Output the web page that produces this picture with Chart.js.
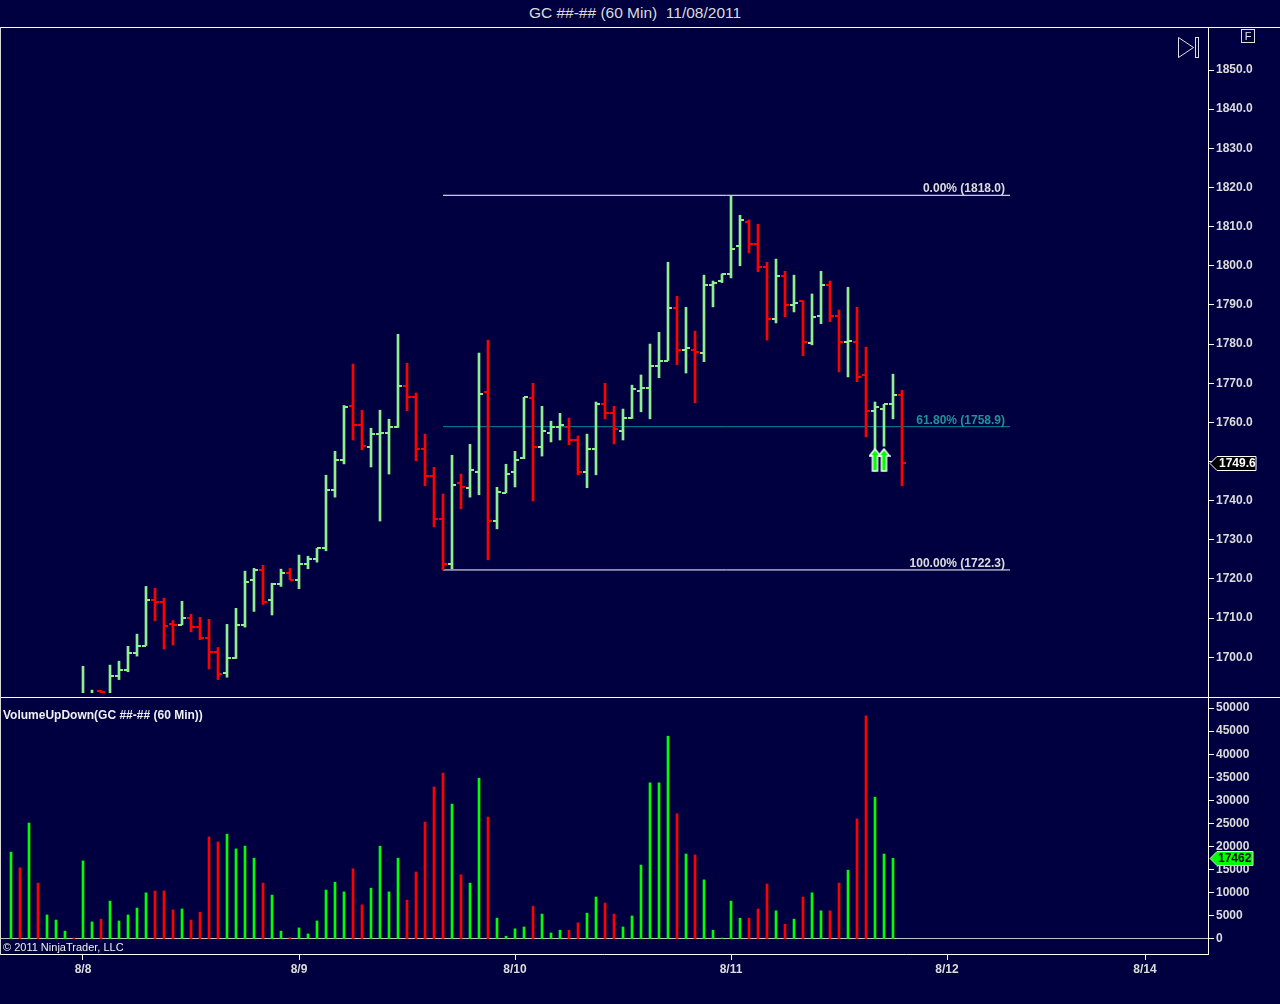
<!DOCTYPE html>
<html>
<head>
<meta charset="utf-8">
<script src="https://cdn.jsdelivr.net/npm/chart.js@4.4.1/dist/chart.umd.min.js"></script>
<style>
html,body{margin:0;padding:0;background:#000040;width:1280px;height:1004px;overflow:hidden;font-family:"Liberation Sans",Arial,sans-serif;}
#title{position:absolute;left:0;top:0;width:1270px;height:27px;line-height:26px;text-align:center;color:#DCDCDC;font-size:15.5px;white-space:pre;}
#topline{position:absolute;left:0;top:27px;width:1280px;height:1px;background:#FFFFFF;}
#leftline{position:absolute;left:0;top:27px;width:1px;height:928px;background:#D8D8D8;z-index:2;}
#pbox{position:absolute;left:0;top:28px;width:1280px;height:669px;}
#vbox{position:absolute;left:0;top:697px;width:1280px;height:307px;}
</style>
</head>
<body>
<div id="title"></div>
<div id="topline"></div>
<div id="leftline"></div>
<div id="pbox"><canvas id="priceChart"></canvas></div>
<div id="vbox"><canvas id="volChart"></canvas></div>
<script>
// ---------------- DATA ----------------
const chartTitle = 'GC ##-## (60 Min)  11/08/2011';
const volumeTitle = 'VolumeUpDown(GC ##-## (60 Min))';
const copyrightText = '\u00A9 2011 NinjaTrader, LLC';

// hourly bar slots (0 = first bar on screen)
const barSlots = [0,1,2,3,4,5,6,7,8,9,10,11,12,13,14,15,16,17,18,19,20,21,22,23,24,25,26,27,28,29,30,31,32,33,34,35,36,37,38,39,40,41,42,43,44,45,46,47,48,49,50,51,52,53,54,55,56,57,58,59,60,61,62,63,64,65,66,67,68,69,70,71,72,73,74,75,76,77,78,79,80,81,82,83,84,85,86,87,88,89,90,91,92,93,94,95,96,97,98,99];

const opens = [1680.0,1684.0,1681.0,1686.0,1683.0,1685.0,1686.0,1687.0,1686.5,1689.5,
 1691.3,1689.0,1695.3,1696.7,1701.2,1703.0,1714.5,1714.0,1708.4,1708.3,
 1710.1,1707.8,1705.0,1701.4,1696.1,1699.7,1708.3,1719.8,1722.2,1714.5,
 1718.7,1721.6,1719.8,1723.7,1725.0,1727.8,1742.8,1750.5,1764.1,1759.4,
 1753.8,1757.1,1757.4,1758.9,1769.4,1766.6,1753.1,1746.4,1735.3,1723.7,
 1744.4,1743.2,1747.4,1767.7,1734.7,1742.0,1747.4,1751.0,1766.1,1753.6,
 1757.4,1758.7,1758.9,1755.6,1747.2,1753.3,1764.6,1762.3,1757.9,1761.0,
 1768.1,1768.7,1774.5,1775.8,1789.1,1778.4,1778.6,1777.6,1795.0,1796.0,
 1798.0,1805.0,1811.1,1805.5,1799.8,1786.3,1797.5,1790.1,1790.9,1780.2,
 1787.1,1795.2,1787.1,1780.6,1780.4,1772.0,1763.0,1763.5,1764.6,1766.9];
const highs = [1686.0,1686.0,1688.0,1687.0,1686.0,1687.0,1687.5,1688.0,1697.7,1691.6,
 1691.5,1698.0,1699.0,1702.8,1705.9,1718.1,1717.6,1715.1,1709.4,1714.3,
 1711.0,1710.2,1709.7,1702.5,1708.4,1712.5,1722.0,1722.7,1723.5,1718.9,
 1722.5,1722.7,1726.1,1725.8,1727.8,1746.5,1752.6,1764.3,1774.9,1763.1,
 1758.5,1763.1,1760.8,1782.5,1775.1,1767.5,1757.0,1748.5,1741.7,1751.6,
 1746.8,1754.4,1777.7,1781.0,1743.4,1749.3,1752.6,1766.4,1770.0,1764.1,
 1760.3,1762.3,1761.1,1756.5,1757.0,1765.2,1770.0,1764.1,1763.4,1769.5,
 1772.1,1780.0,1783.0,1800.9,1792.2,1789.4,1783.3,1797.6,1796.1,1797.9,
 1818.0,1812.9,1811.7,1810.6,1800.9,1801.7,1798.6,1797.6,1791.0,1792.8,
 1798.6,1796.1,1788.7,1794.5,1789.4,1779.2,1765.2,1764.6,1772.3,1768.2];
const lows = [1678.0,1679.0,1680.0,1682.0,1682.0,1684.0,1685.0,1685.5,1686.0,1687.0,
 1686.0,1688.0,1694.3,1696.3,1700.3,1703.0,1709.3,1702.1,1703.1,1708.3,
 1706.5,1704.5,1697.0,1694.3,1694.9,1699.7,1707.7,1711.7,1713.5,1710.8,
 1718.1,1719.8,1717.5,1722.6,1724.3,1727.2,1740.9,1749.4,1755.5,1753.0,
 1748.6,1734.8,1746.8,1758.7,1763.0,1750.2,1743.8,1733.3,1722.3,1722.6,
 1737.9,1740.9,1741.5,1724.9,1732.8,1742.0,1743.5,1750.7,1739.9,1751.4,
 1755.0,1755.5,1754.3,1746.6,1743.3,1746.6,1760.9,1754.5,1755.5,1761.0,
 1762.7,1760.9,1771.4,1775.8,1774.7,1772.6,1765.0,1775.5,1789.5,1795.7,
 1796.9,1800.0,1803.3,1798.5,1781.0,1785.4,1787.0,1788.2,1777.0,1779.8,
 1785.2,1785.7,1772.9,1771.6,1770.4,1756.3,1753.3,1753.9,1760.9,1743.8];
const closes = [1684.0,1681.0,1686.0,1683.0,1685.0,1686.0,1687.0,1686.5,1690.0,1690.5,
 1691.1,1695.3,1696.7,1701.2,1703.0,1714.5,1714.0,1708.1,1708.2,1710.1,
 1707.8,1705.0,1701.4,1695.8,1699.7,1708.3,1719.3,1722.2,1714.2,1718.7,
 1721.6,1719.8,1723.7,1725.0,1727.8,1742.8,1750.5,1763.8,1759.4,1754.0,
 1757.1,1757.2,1758.9,1769.2,1766.6,1753.1,1746.2,1735.3,1723.7,1744.1,
 1743.4,1747.8,1767.2,1734.7,1742.3,1746.7,1750.5,1766.4,1753.6,1757.7,
 1758.7,1759.2,1755.6,1747.2,1753.3,1764.6,1762.3,1758.2,1761.0,1768.4,
 1768.9,1774.3,1775.6,1789.1,1778.4,1778.9,1777.9,1795.2,1795.5,1797.8,
 1804.2,1811.6,1805.5,1799.8,1786.5,1797.3,1790.1,1790.6,1780.4,1786.8,
 1795.2,1787.1,1780.6,1780.7,1771.7,1763.0,1763.8,1764.6,1766.9,1749.6];
const volumes = [18800,15400,25100,12100,5200,4100,1700,200,16900,3700,
 4300,8200,3900,5200,6700,10000,10400,10400,6300,6500,
 4100,5800,22100,21000,22700,19500,20100,17500,12100,9500,
 1700,300,2400,1100,3900,10600,12300,10200,15200,7400,
 11000,20100,10200,17500,8400,14500,25300,32900,35900,29200,
 13900,12100,34800,26400,4500,600,2200,2600,7100,5400,
 1300,1900,1900,3500,5600,9100,7800,5400,2600,5000,
 16000,33800,33800,43900,27100,18400,18200,12800,1900,200,
 8200,4500,4500,6500,11900,6100,3200,4300,9100,10000,
 6100,6100,12100,14900,26000,48300,30700,18400,17462,null];

const priceTicks = [1700,1710,1720,1730,1740,1750,1760,1770,1780,1790,1800,1810,1820,1830,1840,1850];
const volumeTicks = [0,5000,10000,15000,20000,25000,30000,35000,40000,45000,50000];
const dateLabels = ['8/8','8/9','8/10','8/11','8/12','8/14'];
const dateSlots = [8,32,56,80,104,126];

const fibLabels = ['0.00%','61.80%','100.00%'];
const fibPrices = [1818.0,1758.9,1722.3];
const fibStartSlot = 48;
const fibEndSlot = 111;

const signalSlots = [96,97];
const signalPrices = [1750.4,1750.4];

// ---------------- VIEW ----------------
const X_MIN = -11/9, X_MAX = 133.0;
const PRICE_MIN = 1689.85, PRICE_MAX = 1860.73;
const VOL_MIN = -3247, VOL_MAX = 52381;
const FONT = '"Liberation Sans", Arial, sans-serif';
const LABEL = '#DCDCDC';
const UP = '#90EE90', DOWN = '#FF0000', VUP = '#00FF00', VDOWN = '#FF0000';
const FIB_COLORS = ['#FFFFFF', '#008B8B', '#FFFFFF'];
const FIB_TEXT = ['#DCDCDC', '#1E9494', '#DCDCDC'];

document.getElementById('title').textContent = chartTitle;
Chart.defaults.font.family = FONT;

const isUp = barSlots.map((k, i) => closes[i] >= opens[i]);

function arrowImg() {
  const c = document.createElement('canvas');
  c.width = 13; c.height = 24;
  const g = c.getContext('2d');
  g.beginPath();
  g.moveTo(6.5, 1); g.lineTo(12, 8); g.lineTo(9, 8); g.lineTo(9, 23);
  g.lineTo(4, 23); g.lineTo(4, 8); g.lineTo(1, 8); g.closePath();
  g.fillStyle = '#00FF00'; g.fill();
  g.strokeStyle = '#FFFFFF'; g.lineWidth = 1.5; g.stroke();
  return c;
}
const arrow = arrowImg();

const priceClip = {left: 0, top: 0, right: 0, bottom: -4};
const noPad = s => { s.paddingTop = 0; s.paddingBottom = 0; s.paddingLeft = 0; s.paddingRight = 0; };

const datasets = [];
datasets.push({
  type: 'line', label: 'signals', showLine: false,
  data: signalSlots.map((k, i) => ({x: k, y: signalPrices[i]})),
  pointStyle: arrow, pointRadius: 6, clip: priceClip
});
datasets.push({
  type: 'line', label: 'open', showLine: false, tick: 'open',
  data: barSlots.map((k, i) => ({x: k, y: opens[i]})),
  pointRadius: 0, clip: priceClip
});
datasets.push({
  type: 'line', label: 'close', showLine: false, tick: 'close',
  data: barSlots.map((k, i) => ({x: k, y: closes[i]})),
  pointRadius: 0, clip: priceClip
});
datasets.push({
  type: 'bar', label: 'range',
  data: barSlots.map((k, i) => ({x: k, y: [lows[i], highs[i]]})),
  backgroundColor: barSlots.map((k, i) => isUp[i] ? UP : DOWN),
  borderWidth: 0, barThickness: 2, grouped: false, clip: priceClip
});
fibPrices.forEach((p, i) => {
  datasets.push({
    type: 'line', label: fibLabels[i],
    data: [{x: fibStartSlot, y: p}, {x: fibEndSlot, y: p}],
    borderColor: FIB_COLORS[i], borderWidth: 1, pointRadius: 0, clip: priceClip
  });
});

// open/close ticks drawn at the points positioned by the chart's scales
const ohlcTicks = {
  id: 'ohlcTicks',
  afterDatasetsDraw(chart) {
    const ctx = chart.ctx, a = chart.chartArea;
    ctx.save();
    ctx.beginPath();
    ctx.rect(a.left, a.top, a.right - a.left, a.bottom - 4 - a.top);
    ctx.clip();
    chart.data.datasets.forEach((ds, di) => {
      if (!ds.tick) return;
      const meta = chart.getDatasetMeta(di);
      meta.data.forEach((el, i) => {
        const x = Math.round(el.x), y = Math.round(el.y - 1);
        ctx.fillStyle = isUp[i] ? UP : DOWN;
        if (ds.tick === 'open') ctx.fillRect(x - 4, y, 4, 2);
        else ctx.fillRect(x, y, 4, 2);
      });
    });
    ctx.restore();
  }
};

const priceDecor = {
  id: 'priceDecor',
  afterDatasetsDraw(chart) {
    const ctx = chart.ctx, xs = chart.scales.x, ys = chart.scales.y, a = chart.chartArea;
    ctx.save();
    ctx.font = 'bold 12px ' + FONT;
    ctx.textAlign = 'right';
    ctx.textBaseline = 'alphabetic';
    const xr = xs.getPixelForValue(fibEndSlot) - 5;
    fibPrices.forEach((p, i) => {
      ctx.fillStyle = FIB_TEXT[i];
      ctx.fillText(fibLabels[i] + ' (' + p.toFixed(1) + ')', xr, ys.getPixelForValue(p) - 3);
    });
    // last price marker
    const last = closes[closes.length - 1];
    const y = Math.round(ys.getPixelForValue(last)) + 0.5;
    const x0 = a.right + 2;
    ctx.beginPath();
    ctx.moveTo(x0, y); ctx.lineTo(x0 + 7, y - 7); ctx.lineTo(x0 + 46, y - 7);
    ctx.lineTo(x0 + 46, y + 7); ctx.lineTo(x0 + 7, y + 7); ctx.closePath();
    ctx.fillStyle = '#000000'; ctx.fill();
    ctx.strokeStyle = '#FFFFFF'; ctx.lineWidth = 1; ctx.stroke();
    ctx.fillStyle = '#FFFFFF'; ctx.textAlign = 'left'; ctx.textBaseline = 'middle';
    ctx.fillText(last.toFixed(1), x0 + 9, y + 0.5);
    // toolbar glyphs
    ctx.strokeStyle = '#E0E0E0'; ctx.lineWidth = 1;
    ctx.beginPath();
    ctx.moveTo(1178.5, 9.5); ctx.lineTo(1193.5, 19.5); ctx.lineTo(1178.5, 29.5); ctx.closePath();
    ctx.stroke();
    ctx.strokeRect(1195.5, 9.5, 3, 20);
    ctx.strokeRect(1241.5, 1.5, 13, 13);
    ctx.fillStyle = '#E0E0E0'; ctx.font = '11px ' + FONT; ctx.textAlign = 'center'; ctx.textBaseline = 'middle';
    ctx.fillText('F', 1248, 8.5);
    ctx.restore();
  }
};

new Chart(document.getElementById('priceChart'), {
  type: 'bar',
  data: {datasets},
  options: {
    responsive: true, maintainAspectRatio: false, animation: false, events: [],
    layout: {padding: 0, autoPadding: false},
    plugins: {legend: {display: false}, tooltip: {enabled: false}},
    scales: {
      x: {type: 'linear', min: X_MIN, max: X_MAX, display: false, offset: false, grid: {offset: false}},
      y: {
        type: 'linear', position: 'right', min: PRICE_MIN, max: PRICE_MAX,
        afterBuildTicks: s => { s.ticks = priceTicks.map(v => ({value: v})); },
        afterFit: s => { s.width = 72; noPad(s); },
        grid: {drawOnChartArea: false, color: '#FFFFFF', tickLength: 6},
        border: {display: true, color: '#FFFFFF', width: 1},
        ticks: {color: LABEL, padding: 2, font: {size: 12, weight: 'bold'}, callback: v => Number(v).toFixed(1)}
      }
    }
  },
  plugins: [ohlcTicks, priceDecor]
});

const volDecor = {
  id: 'volDecor',
  afterDraw(chart) {
    const ctx = chart.ctx, ys = chart.scales.y, a = chart.chartArea;
    ctx.save();
    ctx.strokeStyle = '#FFFFFF'; ctx.lineWidth = 1;
    ctx.beginPath(); ctx.moveTo(0, 0.5); ctx.lineTo(chart.width, 0.5); ctx.stroke();
    ctx.fillStyle = '#F0F0F0'; ctx.font = 'bold 12px ' + FONT;
    ctx.textAlign = 'left'; ctx.textBaseline = 'middle';
    ctx.fillText(volumeTitle, 3, 18.5);
    ctx.font = '11px ' + FONT; ctx.fillStyle = '#F0F0F0';
    ctx.fillText(copyrightText, 3, a.bottom - 6);
    // last volume marker
    let li = volumes.length - 1;
    while (li > 0 && volumes[li] === null) li--;
    const v = volumes[li];
    const y = Math.round(ys.getPixelForValue(v)) + 0.5;
    const x0 = a.right + 2;
    ctx.beginPath();
    ctx.moveTo(x0, y); ctx.lineTo(x0 + 7, y - 7); ctx.lineTo(x0 + 43, y - 7);
    ctx.lineTo(x0 + 43, y + 7); ctx.lineTo(x0 + 7, y + 7); ctx.closePath();
    ctx.fillStyle = '#00FF00'; ctx.fill();
    ctx.strokeStyle = '#E0E0E0'; ctx.stroke();
    ctx.fillStyle = '#000000'; ctx.font = 'bold 12px ' + FONT;
    ctx.fillText(String(v), x0 + 8, y + 0.5);
    ctx.restore();
  }
};

new Chart(document.getElementById('volChart'), {
  type: 'bar',
  data: {
    datasets: [{
      label: 'volume',
      data: barSlots.map((k, i) => ({x: k, y: volumes[i]})),
      backgroundColor: barSlots.map((k, i) => isUp[i] ? VUP : VDOWN),
      borderWidth: 0, barThickness: 2
    }]
  },
  options: {
    responsive: true, maintainAspectRatio: false, animation: false, events: [],
    layout: {padding: 0, autoPadding: false},
    plugins: {legend: {display: false}, tooltip: {enabled: false}},
    scales: {
      x: {
        type: 'linear', min: X_MIN, max: X_MAX, offset: false, position: 'bottom',
        afterBuildTicks: s => { s.ticks = dateSlots.map(v => ({value: v})); },
        afterFit: s => { s.height = 50; noPad(s); },
        grid: {drawOnChartArea: false, offset: false, color: '#FFFFFF', tickLength: 6},
        border: {display: true, color: '#FFFFFF', width: 1},
        ticks: {color: LABEL, padding: 2, maxRotation: 0, autoSkip: false,
                font: {size: 12, weight: 'bold'}, callback: (v, i) => dateLabels[i]}
      },
      y: {
        type: 'linear', position: 'right', min: VOL_MIN, max: VOL_MAX,
        afterBuildTicks: s => { s.ticks = volumeTicks.map(v => ({value: v})); },
        afterFit: s => { s.width = 72; noPad(s); },
        grid: {drawOnChartArea: true, tickLength: 6, tickColor: '#FFFFFF',
               color: c => (c.tick && c.tick.value === 0) ? '#C0C0C0' : 'rgba(0,0,0,0)'},
        border: {display: true, color: '#FFFFFF', width: 1},
        ticks: {color: LABEL, padding: 2, font: {size: 12, weight: 'bold'}, callback: v => String(v)}
      }
    }
  },
  plugins: [volDecor]
});
</script>
</body>
</html>
